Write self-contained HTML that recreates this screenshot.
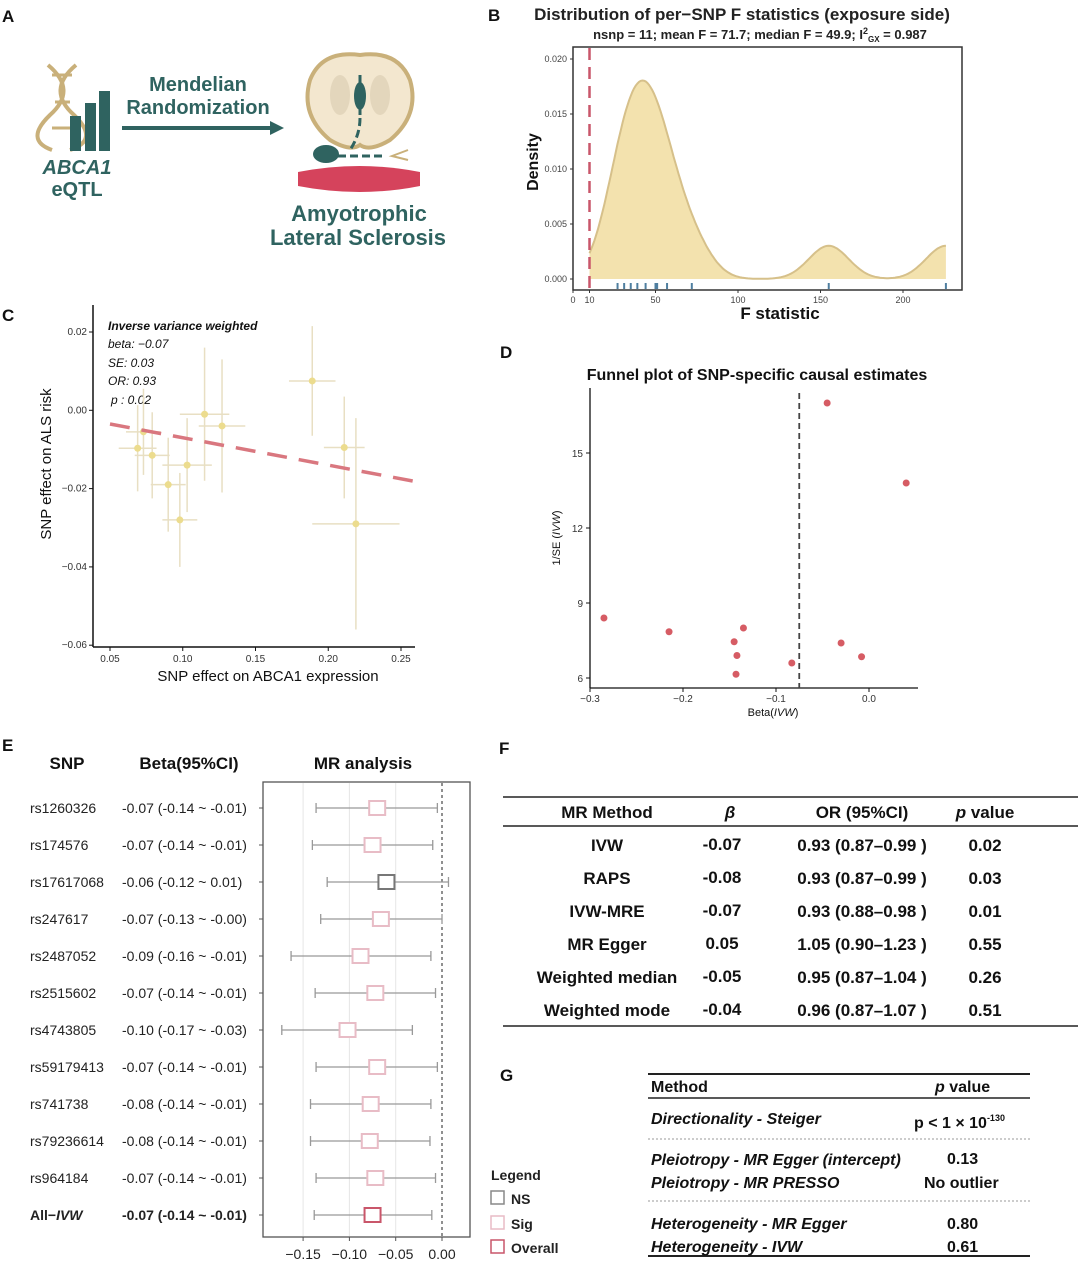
<!DOCTYPE html>
<html><head><meta charset="utf-8">
<style>
body{margin:0;background:#fff;font-family:"Liberation Sans",Arial,sans-serif;}
svg text{font-family:"Liberation Sans",Arial,sans-serif;}
</style></head>
<body>
<svg id="fig" width="1080" height="1262" viewBox="0 0 1080 1262" xmlns="http://www.w3.org/2000/svg">
<g font-weight="bold" font-size="17" fill="#111">
<text x="2" y="22">A</text>
<text x="488" y="21">B</text>
<text x="2" y="321">C</text>
<text x="500" y="358">D</text>
<text x="2" y="751">E</text>
<text x="499" y="754">F</text>
<text x="500" y="1081">G</text>
</g>

<g>
 <g stroke="#c9b07a" stroke-width="4" fill="none">
  <path d="M48 65 Q78 90 50 115 Q24 140 52 150"/>
  <path d="M76 65 Q46 90 74 115 Q100 140 70 150"/>
  <line x1="52" y1="75" x2="72" y2="75" stroke-width="3"/><line x1="55" y1="102" x2="70" y2="102" stroke-width="3"/><line x1="52" y1="128" x2="72" y2="128" stroke-width="3"/>
 </g>
 <g fill="#2f6360">
  <rect x="70" y="116" width="11" height="35"/><rect x="85" y="103" width="11" height="48"/><rect x="99" y="91" width="11" height="60"/>
 </g>
 <text x="77" y="174" text-anchor="middle" font-size="20" font-weight="bold" font-style="italic" fill="#2f6360">ABCA1</text>
 <text x="77" y="196" text-anchor="middle" font-size="20" font-weight="bold" fill="#2f6360">eQTL</text>
 <text x="198" y="91" text-anchor="middle" font-size="20" font-weight="bold" fill="#2f6360">Mendelian</text>
 <text x="198" y="114" text-anchor="middle" font-size="20" font-weight="bold" fill="#2f6360">Randomization</text>
 <line x1="122" y1="128" x2="272" y2="128" stroke="#2f6360" stroke-width="4"/>
 <polygon points="270,121 284,128 270,135" fill="#2f6360"/>
 <g>
  <path d="M360 55 Q322 50 310 80 Q300 115 330 140 Q350 152 360 145 Q370 152 390 140 Q420 115 410 80 Q398 50 360 55Z" fill="#f3e7cf" stroke="#c9b07a" stroke-width="4"/>
  <ellipse cx="340" cy="95" rx="10" ry="20" fill="#e3d6bc"/><ellipse cx="380" cy="95" rx="10" ry="20" fill="#e3d6bc"/>
  <ellipse cx="360" cy="96" rx="6" ry="14" fill="#2f6360"/>
  <line x1="360" y1="75" x2="360" y2="115" stroke="#2f6360" stroke-width="3"/>
  <path d="M360 118 Q360 135 350 150" stroke="#2f6360" stroke-width="3" stroke-dasharray="8,4" fill="none"/>
  <ellipse cx="326" cy="154" rx="13" ry="9" fill="#2f6360"/>
  <line x1="338" y1="156" x2="385" y2="156" stroke="#2f6360" stroke-width="3" stroke-dasharray="8,4"/>
  <path d="M408 150 L392 156 L408 160" stroke="#c9b07a" stroke-width="2" fill="none"/>
  <path d="M298 172 Q360 160 420 172 L420 186 Q360 198 298 186Z" fill="#d5435c"/>
 </g>
 <text x="359" y="221" text-anchor="middle" font-size="22" font-weight="bold" fill="#2f6360">Amyotrophic</text>
 <text x="358" y="245" text-anchor="middle" font-size="22" font-weight="bold" fill="#2f6360">Lateral Sclerosis</text>
</g>

<g id="pb">
 <text x="742" y="20" text-anchor="middle" font-size="17" font-weight="bold" fill="#222">Distribution of per−SNP F statistics (exposure side)</text>
 <text x="760" y="39" text-anchor="middle" font-size="13" font-weight="bold" fill="#222">nsnp = 11; mean F = 71.7; median F = 49.9; I<tspan font-size="9" dy="-5">2</tspan><tspan font-size="8" dy="8">GX</tspan><tspan dy="-3"> = 0.987</tspan></text>
 <rect x="573" y="47" width="389" height="243" fill="none" stroke="#333" stroke-width="1.5"/>
 <text transform="translate(538,162) rotate(-90)" text-anchor="middle" font-size="16" font-weight="bold" fill="#111">Density</text>
 <text x="780" y="319" text-anchor="middle" font-size="17" font-weight="bold" fill="#111">F statistic</text>
</g>

<g id="pc">
 <text transform="translate(51,464) rotate(-90)" text-anchor="middle" font-size="15" fill="#111">SNP effect on ALS risk</text>
 <text x="268" y="681" text-anchor="middle" font-size="15" fill="#111">SNP effect on ABCA1 expression</text>
 <g font-size="12" font-style="italic" fill="#111">
  <text x="108" y="330" font-weight="bold">Inverse variance weighted</text>
  <text x="108" y="348">beta: −0.07</text>
  <text x="108" y="367">SE: 0.03</text>
  <text x="108" y="385">OR: 0.93</text>
  <text x="111" y="404"> p : 0.02</text>
 </g>
</g>

<g id="pd">
 <text x="757" y="380" text-anchor="middle" font-size="16" font-weight="bold" fill="#111">Funnel plot of SNP-specific causal estimates</text>
 <text transform="translate(560,538) rotate(-90)" text-anchor="middle" font-size="11" fill="#111">1/SE (<tspan font-style="italic">IVW</tspan>)</text>
 <text x="773" y="716" text-anchor="middle" font-size="11" fill="#111">Beta(<tspan font-style="italic">IVW</tspan>)</text>
</g>

<g id="pe">
 <text x="67" y="769" text-anchor="middle" font-size="17" font-weight="bold" fill="#111">SNP</text>
 <text x="189" y="769" text-anchor="middle" font-size="17" font-weight="bold" fill="#111">Beta(95%CI)</text>
 <text x="363" y="769" text-anchor="middle" font-size="17" font-weight="bold" fill="#111">MR analysis</text>
 <rect x="263" y="782" width="207" height="455" fill="none" stroke="#555" stroke-width="1.3"/>
 <g font-size="14" font-weight="bold" fill="#222">
  <text x="491" y="1180">Legend</text>
  <rect x="491" y="1191" width="13" height="13" fill="none" stroke="#888" stroke-width="1.5"/><text x="511" y="1204">NS</text>
  <rect x="491" y="1216" width="13" height="13" fill="none" stroke="#e8bcc6" stroke-width="1.5"/><text x="511" y="1229">Sig</text>
  <rect x="491" y="1240" width="13" height="13" fill="none" stroke="#c9566a" stroke-width="1.5"/><text x="511" y="1253">Overall</text>
 </g>
</g>

<g font-size="17" font-weight="bold" fill="#111" text-anchor="middle">
 <line x1="503" y1="797" x2="1078" y2="797" stroke="#222" stroke-width="1.5"/>
 <line x1="503" y1="826" x2="1078" y2="826" stroke="#222" stroke-width="1.5"/>
 <line x1="503" y1="1026" x2="1078" y2="1026" stroke="#222" stroke-width="1.5"/>
 <text x="607" y="818">MR Method</text><text x="730" y="818" font-style="italic">β</text><text x="862" y="818">OR (95%CI)</text><text x="985" y="818"><tspan font-style="italic">p</tspan> value</text>
 <g><text x="607" y="851">IVW</text><text x="722" y="850">-0.07</text><text x="862" y="851">0.93 (0.87–0.99 )</text><text x="985" y="851">0.02</text></g>
 <g><text x="607" y="884">RAPS</text><text x="722" y="883">-0.08</text><text x="862" y="884">0.93 (0.87–0.99 )</text><text x="985" y="884">0.03</text></g>
 <g><text x="607" y="917">IVW-MRE</text><text x="722" y="916">-0.07</text><text x="862" y="917">0.93 (0.88–0.98 )</text><text x="985" y="917">0.01</text></g>
 <g><text x="607" y="950">MR Egger</text><text x="722" y="949">0.05</text><text x="862" y="950">1.05 (0.90–1.23 )</text><text x="985" y="950">0.55</text></g>
 <g><text x="607" y="983">Weighted median</text><text x="722" y="982">-0.05</text><text x="862" y="983">0.95 (0.87–1.04 )</text><text x="985" y="983">0.26</text></g>
 <g><text x="607" y="1016">Weighted mode</text><text x="722" y="1015">-0.04</text><text x="862" y="1016">0.96 (0.87–1.07 )</text><text x="985" y="1016">0.51</text></g>
</g>

<g font-size="16" font-weight="bold" fill="#111">
 <line x1="648" y1="1074" x2="1030" y2="1074" stroke="#222" stroke-width="2"/>
 <line x1="648" y1="1098" x2="1030" y2="1098" stroke="#222" stroke-width="1.5"/>
 <line x1="648" y1="1139" x2="1030" y2="1139" stroke="#999" stroke-width="1" stroke-dasharray="2,2"/>
 <line x1="648" y1="1201" x2="1030" y2="1201" stroke="#999" stroke-width="1" stroke-dasharray="2,2"/>
 <line x1="648" y1="1256" x2="1030" y2="1256" stroke="#222" stroke-width="2"/>
 <text x="651" y="1092">Method</text><text x="935" y="1092"><tspan font-style="italic">p</tspan> value</text>
 <text x="651" y="1124" font-style="italic">Directionality - Steiger</text><text x="914" y="1128">p &lt; 1 × 10<tspan font-size="9" dy="-7">-130</tspan></text>
 <text x="651" y="1165" font-style="italic">Pleiotropy - MR Egger (intercept)</text><text x="947" y="1164">0.13</text>
 <text x="651" y="1188" font-style="italic">Pleiotropy - MR PRESSO</text><text x="924" y="1188">No outlier</text>
 <text x="651" y="1229" font-style="italic">Heterogeneity - MR Egger</text><text x="947" y="1229">0.80</text>
 <text x="651" y="1252" font-style="italic">Heterogeneity - IVW</text><text x="947" y="1252">0.61</text>
</g>
</svg>
<script>
const fValues = [27, 31, 35, 39, 44, 50, 51, 57, 72, 155, 226];
const fThreshold = 10;
const densityTicks = [0, 0.005, 0.010, 0.015, 0.020];
const fTicks = [0, 10, 50, 100, 150, 200];
const snpBetaX = [0.069, 0.073, 0.079, 0.090, 0.098, 0.103, 0.115, 0.127, 0.189, 0.211, 0.219];
const snpBetaY = [-0.0097, -0.0055, -0.0115, -0.019, -0.028, -0.014, -0.001, -0.004, 0.0075, -0.0095, -0.029];
const snpSeX = [0.013, 0.012, 0.012, 0.012, 0.012, 0.017, 0.017, 0.016, 0.016, 0.014, 0.030];
const snpSeY = [0.011, 0.011, 0.011, 0.012, 0.012, 0.012, 0.017, 0.017, 0.014, 0.013, 0.027];
const ivwSlope = -0.07;
const scatterXTicks = [0.05, 0.10, 0.15, 0.20, 0.25];
const scatterYTicks = [0.02, 0.00, -0.02, -0.04, -0.06];
const funnelBeta = [-0.285, -0.215, -0.145, -0.135, -0.142, -0.143, -0.083, -0.045, -0.03, -0.008, 0.04];
const funnelPrec = [8.4, 7.85, 7.45, 8.0, 6.9, 6.15, 6.6, 17.0, 7.4, 6.85, 13.8];
const funnelIvw = -0.075;
const funnelXTicks = [-0.3, -0.2, -0.1, 0.0];
const funnelYTicks = [6, 9, 12, 15];
const snpNames = ["rs1260326","rs174576","rs17617068","rs247617","rs2487052","rs2515602","rs4743805","rs59179413","rs741738","rs79236614","rs964184","All−IVW"];
const forestBeta = [-0.07,-0.075,-0.06,-0.066,-0.088,-0.072,-0.102,-0.07,-0.077,-0.078,-0.072,-0.075];
const forestLow = [-0.136,-0.14,-0.124,-0.131,-0.163,-0.137,-0.173,-0.136,-0.142,-0.142,-0.136,-0.138];
const forestHigh = [-0.005,-0.01,0.007,0.0,-0.012,-0.007,-0.032,-0.005,-0.012,-0.013,-0.007,-0.011];
const forestLabels = ["-0.07 (-0.14 ~ -0.01)","-0.07 (-0.14 ~ -0.01)","-0.06 (-0.12 ~ 0.01)","-0.07 (-0.13 ~ -0.00)","-0.09 (-0.16 ~ -0.01)","-0.07 (-0.14 ~ -0.01)","-0.10 (-0.17 ~ -0.03)","-0.07 (-0.14 ~ -0.01)","-0.08 (-0.14 ~ -0.01)","-0.08 (-0.14 ~ -0.01)","-0.07 (-0.14 ~ -0.01)","-0.07 (-0.14 ~ -0.01)"];
const forestType = ["Sig","Sig","NS","Sig","Sig","Sig","Sig","Sig","Sig","Sig","Sig","Overall"];
const forestTicks = [-0.15, -0.10, -0.05, 0.00];

const NS = "http://www.w3.org/2000/svg";
function mk(parent, tag, attrs, txt){const e=document.createElementNS(NS,tag);for(const k in attrs)e.setAttribute(k,attrs[k]);if(txt!==undefined)e.textContent=txt;parent.appendChild(e);return e;}

(function(){
 const g=document.getElementById('pb');
 const sx=f=>573+f*1.65, sy=d=>279-d*11000;
 const bw=12, n=fValues.length;
 const kde=x=>fValues.reduce((s,v)=>s+Math.exp(-0.5*((x-v)/bw)**2),0)/(n*bw*Math.sqrt(2*Math.PI));
 const lo=fThreshold, hi=Math.max(...fValues);
 let d=`M${sx(lo)},${sy(0)}`; let line='';
 for(let f=lo;f<=hi;f+=1){d+=` L${sx(f).toFixed(1)},${sy(kde(f)).toFixed(1)}`;line+=(line?' L':'M')+sx(f).toFixed(1)+','+sy(kde(f)).toFixed(1);}
 d+=` L${sx(hi)},${sy(0)} Z`;
 const area=mk(g,'path',{d:d,fill:'#f3e2ae',stroke:'none'});
 
 
 const cv=mk(g,'path',{d:line,fill:'none',stroke:'#d6c08a','stroke-width':2});
 
 
 const th=mk(g,'line',{x1:sx(fThreshold),x2:sx(fThreshold),y1:48,y2:290,stroke:'#c9566a','stroke-width':2.5,'stroke-dasharray':'12,7'});
 
 
 fValues.forEach(v=>{const r=mk(g,'line',{x1:sx(v),x2:sx(v),y1:283,y2:289,stroke:'#4f7fa0','stroke-width':2});
  
  });
 densityTicks.forEach(t=>{mk(g,'line',{x1:570,x2:573,y1:sy(t),y2:sy(t),stroke:'#333'});
  const tx=mk(g,'text',{x:567,y:sy(t)+3,'text-anchor':'end','font-size':9,fill:'#444'},t.toFixed(3));
  
  });
 fTicks.forEach(t=>{mk(g,'line',{x1:sx(t),x2:sx(t),y1:290,y2:293,stroke:'#333'});
  const tx=mk(g,'text',{x:sx(t),y:303,'text-anchor':'middle','font-size':9,fill:'#444'},String(t));
  
  });
})();

(function(){
 const g=document.getElementById('pc');
 const sx=x=>110+(x-0.05)*1455, sy=y=>332+(0.02-y)*3915;
 mk(g,'line',{x1:93,x2:93,y1:305,y2:647,stroke:'#111','stroke-width':1.5});
 mk(g,'line',{x1:93,x2:415,y1:647,y2:647,stroke:'#111','stroke-width':1.5});
 scatterXTicks.forEach(t=>{mk(g,'line',{x1:sx(t),x2:sx(t),y1:647,y2:651,stroke:'#111'});
  const tx=mk(g,'text',{x:sx(t),y:662,'text-anchor':'middle','font-size':10,fill:'#333'},t.toFixed(2));
  
  });
 scatterYTicks.forEach(t=>{mk(g,'line',{x1:89,x2:93,y1:sy(t),y2:sy(t),stroke:'#111'});
  const tx=mk(g,'text',{x:87,y:sy(t)+3,'text-anchor':'end','font-size':10,fill:'#333'},t.toFixed(2).replace('-','−'));
  
  });
 snpBetaX.forEach((x,i)=>{
  const y=snpBetaY[i];
  const h=mk(g,'line',{x1:sx(x-snpSeX[i]),x2:sx(x+snpSeX[i]),y1:sy(y),y2:sy(y),stroke:'#e8dfc3','stroke-width':1.5});
  
  
  const v=mk(g,'line',{x1:sx(x),x2:sx(x),y1:sy(y-snpSeY[i]),y2:sy(y+snpSeY[i]),stroke:'#e8dfc3','stroke-width':1.5});
  
  
  const c=mk(g,'circle',{cx:sx(x),cy:sy(y),r:3.5,fill:'#ecdc8e'});
  
  
 });
 const l=mk(g,'line',{x1:sx(0.05),y1:sy(ivwSlope*0.05),x2:sx(0.259),y2:sy(ivwSlope*0.259),stroke:'#d9777f','stroke-width':3.5,'stroke-dasharray':'20,12'});
 
 
})();

(function(){
 const g=document.getElementById('pd');
 const sx=b=>869+b*930, sy=p=>678-(p-6)*25;
 mk(g,'line',{x1:590,x2:590,y1:388,y2:688,stroke:'#111','stroke-width':1.3});
 mk(g,'line',{x1:590,x2:918,y1:688,y2:688,stroke:'#111','stroke-width':1.3});
 funnelXTicks.forEach(t=>{mk(g,'line',{x1:sx(t),x2:sx(t),y1:688,y2:692,stroke:'#111'});
  const tx=mk(g,'text',{x:sx(t),y:702,'text-anchor':'middle','font-size':10,fill:'#333'},(t===0?'0.0':t.toFixed(1).replace('-','−')));
  
  });
 funnelYTicks.forEach(t=>{mk(g,'line',{x1:586,x2:590,y1:sy(t),y2:sy(t),stroke:'#111'});
  const tx=mk(g,'text',{x:583,y:sy(t)+4,'text-anchor':'end','font-size':10,fill:'#333'},String(t));
  
  });
 const v=mk(g,'line',{x1:sx(funnelIvw),x2:sx(funnelIvw),y1:393,y2:688,stroke:'#444','stroke-width':1.8,'stroke-dasharray':'6,4'});
 
 
 funnelBeta.forEach((b,i)=>{const c=mk(g,'circle',{cx:sx(b),cy:sy(funnelPrec[i]),r:3.5,fill:'#d65c64'});
  
  });
})();

(function(){
 const g=document.getElementById('pe');
 const sx=b=>442+b*926, rowY=i=>808+i*37;
 forestTicks.forEach(t=>{
  if(t!==0) mk(g,'line',{x1:sx(t),x2:sx(t),y1:783,y2:1236,stroke:'#e6e6e6','stroke-width':1});
  mk(g,'line',{x1:sx(t),x2:sx(t),y1:1237,y2:1241,stroke:'#555'});
  const tx=mk(g,'text',{x:sx(t),y:1259,'text-anchor':'middle','font-size':14,fill:'#222'},t.toFixed(2).replace('-','−'));
  
  });
 mk(g,'line',{x1:sx(0),x2:sx(0),y1:783,y2:1236,stroke:'#222','stroke-width':1,'stroke-dasharray':'3,3'});
 snpNames.forEach((n,i)=>{
  const y=rowY(i), last=i===snpNames.length-1;
  const t1=mk(g,'text',{x:30,y:y+5,'font-size':14,fill:'#222','font-weight':last?'bold':'normal'},last?'All−':n);
  if(last){mk(t1,'tspan',{'font-style':'italic'},'IVW');}
  
  
  const t2=mk(g,'text',{x:122,y:y+5,'font-size':14,fill:'#222','font-weight':last?'bold':'normal'},forestLabels[i]);
  
  
  mk(g,'line',{x1:259,x2:263,y1:y,y2:y,stroke:'#555'});
  const ci=mk(g,'line',{x1:sx(forestLow[i]),x2:sx(forestHigh[i]),y1:y,y2:y,stroke:'#999','stroke-width':1.3});
  
  
  [forestLow[i],forestHigh[i]].forEach(v=>mk(g,'line',{x1:sx(v),x2:sx(v),y1:y-5,y2:y+5,stroke:'#999','stroke-width':1.3}));
  const col=forestType[i]==='NS'?'#777':(forestType[i]==='Overall'?'#c9566a':'#e8bcc6');
  const b=mk(g,'rect',{x:sx(forestBeta[i])-8,y:y-7,width:16,height:14,fill:'#fff',stroke:col,'stroke-width':2});
  
  
 });
})();
</script>
</body></html>
